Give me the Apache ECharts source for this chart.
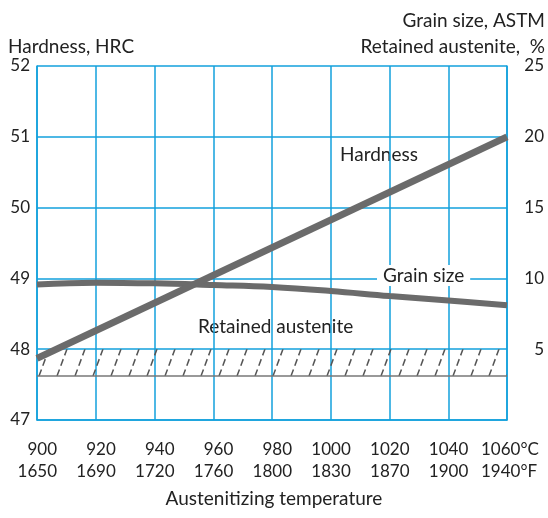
<!DOCTYPE html>
<html>
<head>
<meta charset="utf-8">
<script src="https://cdn.jsdelivr.net/npm/echarts@6/dist/echarts.min.js"></script>
<style>
  html, body { margin: 0; padding: 0; background: #fff; }
  #chart { width: 548px; height: 518px; }
</style>
</head>
<body>
<div id="chart"></div>
<script>
// temperatures on the x axis (°C with the °F equivalents underneath)
const tempC = [900, 920, 940, 960, 980, 1000, 1020, 1040, 1060];
const tempF = [1650, 1690, 1720, 1760, 1800, 1830, 1870, 1900, 1940];
// hardness, HRC (straight line, read at the two ends)
const hardnessTemp = [900, 1060];
const hardness = [47.87, 51.0];
// grain size, ASTM (right axis)
const grainSize = [9.57, 9.70, 9.65, 9.53, 9.39, 9.11, 8.75, 8.44, 8.11];
// retained austenite band, % (right axis)
const austeniteBand = [3.1, 5];

const blue = '#12a0dc';
const gray = '#6b6b6b';
const font = 'Lato, "Open Sans", sans-serif';
const words = '19px ' + font;

// hatch for the retained austenite band
const hatch = document.createElement('canvas');
hatch.width = 18;
hatch.height = 27;
const hctx = hatch.getContext('2d');
hctx.strokeStyle = '#555';
hctx.lineWidth = 1.5;
hctx.setLineDash([7, 4]);
hctx.beginPath();
hctx.moveTo(3, 27);
hctx.lineTo(13, 0);
hctx.stroke();

const chart = echarts.init(document.getElementById('chart'));
chart.setOption({
  animation: false,
  grid: { left: 37, right: 40, top: 66, bottom: 98 },
  xAxis: {
    type: 'value', min: 900, max: 1060, interval: 20,
    axisLine: { show: true, lineStyle: { color: blue, width: 1.5 } },
    axisTick: { show: false },
    splitLine: { show: true, lineStyle: { color: blue, width: 1.5 } },
    axisLabel: {
      margin: 19,
      color: '#222',
      fontFamily: font,
      fontSize: 17,
      lineHeight: 22,
      formatter: function (v) {
        const i = tempC.indexOf(v);
        if (i === tempC.length - 1) {
          return '{m|' + v + '°C}\n{m|' + tempF[i] + '°F}';
        }
        return '{n|' + v + '}\n{n|' + tempF[i] + '}';
      },
      rich: {
        n: { width: 40, align: 'right', fontSize: 17, fontFamily: font, color: '#222', lineHeight: 22 },
        m: { width: 64, align: 'left', padding: [0, 0, 0, 12], fontSize: 17, fontFamily: font, color: '#222', lineHeight: 22 }
      }
    }
  },
  yAxis: [
    {
      type: 'value', min: 47, max: 52, interval: 1,
      axisLine: { show: true, lineStyle: { color: blue, width: 1.5 } },
      axisTick: { show: false },
      splitLine: { show: true, lineStyle: { color: blue, width: 1.5 } },
      axisLabel: { margin: 7, color: '#222', fontFamily: font, fontSize: 17 }
    },
    {
      type: 'value', min: 0, max: 25, interval: 5, position: 'right',
      axisLine: { show: true, lineStyle: { color: blue, width: 1.5 } },
      axisTick: { show: false },
      splitLine: { show: false },
      axisLabel: {
        margin: 37, align: 'right', color: '#222', fontFamily: font, fontSize: 17,
        formatter: function (v) { return v === 0 ? '' : v; }
      }
    }
  ],
  series: [
    {
      name: 'Grain size',
      type: 'line',
      yAxisIndex: 1,
      smooth: 0.4,
      symbol: 'none',
      data: tempC.map((t, i) => [t, grainSize[i]]),
      lineStyle: { color: gray, width: 6 },
      markArea: {
        silent: true,
        itemStyle: { color: { image: hatch, repeat: 'repeat', x: 0, y: 349 } },
        data: [[{ yAxis: austeniteBand[0] }, { yAxis: austeniteBand[1] }]]
      },
      markLine: {
        silent: true,
        symbol: 'none',
        label: { show: false },
        lineStyle: { color: '#777', width: 1.5, type: 'solid' },
        data: [{ yAxis: austeniteBand[0] }]
      }
    },
    {
      name: 'Hardness',
      type: 'line',
      yAxisIndex: 0,
      symbol: 'none',
      data: hardnessTemp.map((t, i) => [t, hardness[i]]),
      lineStyle: { color: gray, width: 7 }
    }
  ],
  graphic: [
    { type: 'text', left: 8, top: 37, style: { text: 'Hardness, HRC', font: words, fill: '#222' } },
    { type: 'text', right: 3, top: 11, style: { text: 'Grain size, ASTM', font: words, fill: '#222' } },
    { type: 'text', right: 3, top: 37, style: { text: 'Retained austenite,  %', font: words, fill: '#222' } },
    { type: 'text', left: 340, top: 145, style: { text: 'Hardness', font: words, fill: '#222' } },
    { type: 'text', left: 377, top: 265, z: 10, style: { text: 'Grain size', font: words, fill: '#222', backgroundColor: '#fff', padding: [1, 6] } },
    { type: 'text', left: 198, top: 317, style: { text: 'Retained austenite', font: words, fill: '#222' } },
    { type: 'text', left: 'center', top: 489, style: { text: 'Austenitizing temperature', font: words, fill: '#222' } }
  ]
});
</script>
</body>
</html>
